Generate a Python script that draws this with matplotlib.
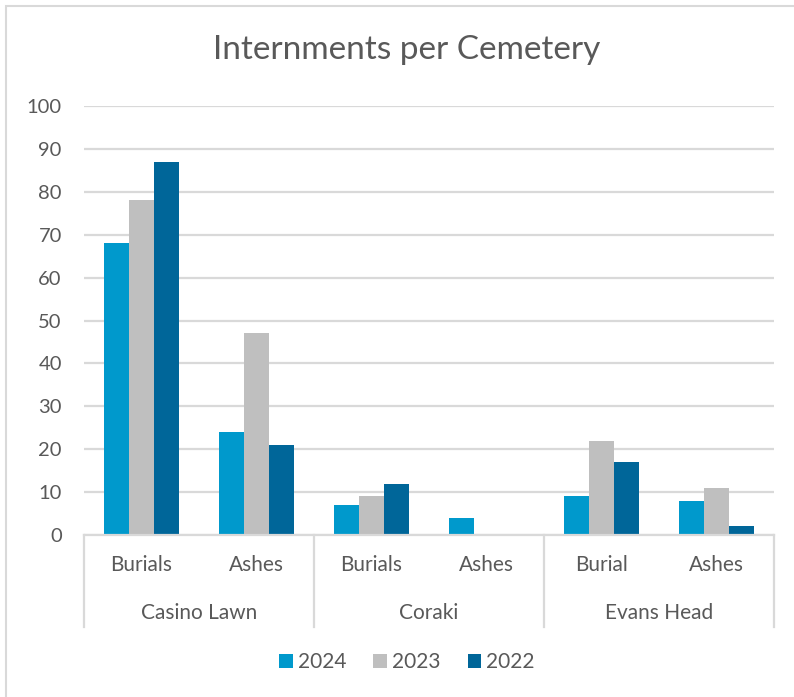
import matplotlib
matplotlib.use("Agg")
import matplotlib.pyplot as plt
from matplotlib.lines import Line2D
from matplotlib.patches import Rectangle
import numpy as np

plt.rcParams['font.family'] = ['Lato', 'DejaVu Sans']

cemeteries = ["Casino Lawn", "Coraki", "Evans Head"]
types = ["Burials", "Ashes", "Burials", "Ashes", "Burial", "Ashes"]
years = ["2024", "2023", "2022"]
vals_2024 = [68, 24, 7, 4, 9, 8]
vals_2023 = [78, 47, 9, 0, 22, 11]
vals_2022 = [87, 21, 12, 0, 17, 2]
colors = ["#0099CC", "#BFBFBF", "#006699"]
text_color = "#595959"
line_color = "#D9D9D9"

W, H = 794, 697
fig = plt.figure(figsize=(W / 100, H / 100), dpi=100)
ax = fig.add_axes([84 / W, 1 - 535 / H, (774 - 84) / W, (535 - 106) / H])

n = len(types)
x = np.arange(n)
bw = 0.22
for i, (vals, c, lab) in enumerate(zip([vals_2024, vals_2023, vals_2022], colors, years)):
    ax.bar(x + (i - 1) * bw, vals, width=bw, color=c, label=lab, zorder=3)

ax.set_xlim(-0.5, n - 0.5)
ax.set_ylim(0, 100)
ax.set_yticks(np.arange(0, 101, 10))
ax.yaxis.grid(True, color=line_color, linewidth=1.6, zorder=0)
ax.tick_params(axis="y", length=0, pad=16, labelsize=14.5, labelcolor=text_color)
ax.set_xticks([])
for s in ["top", "right", "left"]:
    ax.spines[s].set_visible(False)
ax.spines["bottom"].set_color(line_color)
ax.spines["bottom"].set_linewidth(1.6)
ax.spines["bottom"].set_zorder(4)

# two-level category axis: type labels, cemetery labels and dividers
trans = ax.get_xaxis_transform()
for i, t in enumerate(types):
    ax.text(i, -0.07, t, transform=trans, ha="center", va="center",
            fontsize=15, color=text_color)
for g, name in enumerate(cemeteries):
    ax.text(2 * g + 0.5, -0.182, name, transform=trans, ha="center", va="center",
            fontsize=15, color=text_color)
for b in [-0.5, 1.5, 3.5, 5.5]:
    ax.add_line(Line2D([b, b], [0, -0.215], transform=trans, color=line_color,
                       linewidth=1.6, clip_on=False))

cx = 407 / W
fig.text(cx, 1 - 50 / H, "Internments per Cemetery", ha="center", va="center",
         fontsize=24, color=text_color)

fig.legend(loc="center", bbox_to_anchor=(cx, 1 - 662 / H), ncol=3, frameon=False,
           fontsize=15, handlelength=0.65, handleheight=0.65, handletextpad=0.25,
           columnspacing=1.3, labelcolor=text_color)

fig.add_artist(Rectangle((6 / W, -0.1), 1.2, 1 - 6 / H + 0.1, transform=fig.transFigure,
                         fill=False, edgecolor=line_color, linewidth=1.5))

fig.savefig("out.png", dpi=100, facecolor="white")
